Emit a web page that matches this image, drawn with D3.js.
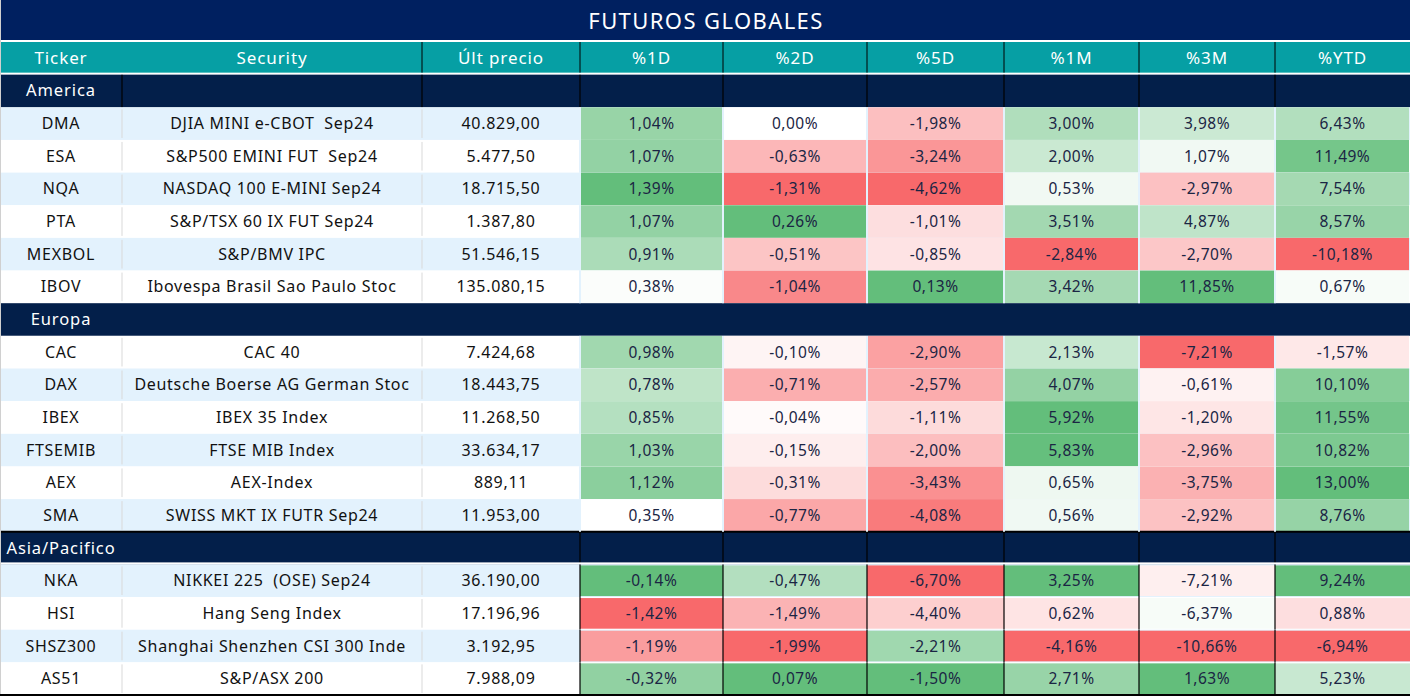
<!DOCTYPE html>
<html><head><meta charset="utf-8">
<script src="https://cdn.jsdelivr.net/npm/d3@7"></script>
<style>
html,body{margin:0;padding:0;background:#fff;}
svg{display:block;font-family:"Noto Sans",sans-serif;}
svg text{white-space:pre;}
</style></head>
<body><svg id="c" width="1412" height="697"></svg>
<script>
const title = "FUTUROS GLOBALES";
const columns = ["Ticker","Security","Últ precio","%1D","%2D","%5D","%1M","%3M","%YTD"];
const sections = ["America","Europa","Asia/Pacifico"];
const sectionOf = ["America","America","America","America","America","America",
  "Europa","Europa","Europa","Europa","Europa","Europa",
  "Asia/Pacifico","Asia/Pacifico","Asia/Pacifico","Asia/Pacifico"];
const tickers = ["DMA","ESA","NQA","PTA","MEXBOL","IBOV","CAC","DAX","IBEX","FTSEMIB","AEX","SMA","NKA","HSI","SHSZ300","AS51"];
const securities = ["DJIA MINI e-CBOT  Sep24","S&P500 EMINI FUT  Sep24","NASDAQ 100 E-MINI Sep24","S&P/TSX 60 IX FUT Sep24","S&P/BMV IPC","Ibovespa Brasil Sao Paulo Stoc",
  "CAC 40","Deutsche Boerse AG German Stoc","IBEX 35 Index","FTSE MIB Index","AEX-Index","SWISS MKT IX FUTR Sep24",
  "NIKKEI 225  (OSE) Sep24","Hang Seng Index","Shanghai Shenzhen CSI 300 Inde","S&P/ASX 200"];
const prices = [40829.00,5477.50,18715.50,1387.80,51546.15,135080.15,7424.68,18443.75,11268.50,33634.17,889.11,11953.00,36190.00,17196.96,3192.95,7988.09];
const pct1D = [1.04,1.07,1.39,1.07,0.91,0.38,0.98,0.78,0.85,1.03,1.12,0.35,-0.14,-1.42,-1.19,-0.32];
const pct2D = [0.00,-0.63,-1.31,0.26,-0.51,-1.04,-0.10,-0.71,-0.04,-0.15,-0.31,-0.77,-0.47,-1.49,-1.99,0.07];
const pct5D = [-1.98,-3.24,-4.62,-1.01,-0.85,0.13,-2.90,-2.57,-1.11,-2.00,-3.43,-4.08,-6.70,-4.40,-2.21,-1.50];
const pct1M = [3.00,2.00,0.53,3.51,-2.84,3.42,2.13,4.07,5.92,5.83,0.65,0.56,3.25,0.62,-4.16,2.71];
const pct3M = [3.98,1.07,-2.97,4.87,-2.70,11.85,-7.21,-0.61,-1.20,-2.96,-3.75,-2.92,-7.21,-6.37,-10.66,1.63];
const pctYTD = [6.43,11.49,7.54,8.57,-10.18,0.67,-1.57,10.10,11.55,10.82,13.00,8.76,9.24,0.88,-6.94,5.23];

const pctCols = {"%1D":pct1D,"%2D":pct2D,"%5D":pct5D,"%1M":pct1M,"%3M":pct3M,"%YTD":pctYTD};

// layout
const W = 1410;
const colEdges = [0,122,422,580,723,867,1004,1139,1275,1410];
const xL = d3.scaleOrdinal().domain(columns).range(colEdges.slice(0,9));
const xR = d3.scaleOrdinal().domain(columns).range(colEdges.slice(1));
const xC = c => (xL(c)+xR(c))/2;

const loc = d3.formatLocale({decimal:",",thousands:".",grouping:[3],currency:["",""],minus:"-"});
const fPrice = loc.format(",.2f");
const fPct = v => loc.format(".2f")(v) + "%";

// rows
const rows = [{type:"header",key:"header"}];
sections.forEach(s=>{
  rows.push({type:"section",key:"s_"+s,name:s});
  tickers.forEach((t,i)=>{ if(sectionOf[i]===s) rows.push({type:"data",key:"d_"+i,i}); });
});
rows.forEach((r,k)=>r.idx=k);
const y = d3.scaleBand().domain(rows.map(r=>r.key)).range([42,695]).padding(0);
const rh = y.bandwidth();

// color scales (Excel-like 3-colour scales)
const RED="#F8696B", WHITE="#FFFFFF", GREEN="#63BE7B";
function makeScale(vals, useMedian){
  const mn=d3.min(vals), mx=d3.max(vals);
  const mid = useMedian ? d3.median(vals) : Math.max(mn, Math.min(mx, 0));
  return d3.scaleLinear().domain([mn,mid,mx]).range([RED,WHITE,GREEN]).interpolate(d3.interpolateRgb);
}
const scales = {};
Object.entries(pctCols).forEach(([c,vals])=>{
  const amEu = vals.filter((v,i)=>sectionOf[i]!=="Asia/Pacifico");
  const as = vals.filter((v,i)=>sectionOf[i]==="Asia/Pacifico");
  scales[c] = {west: makeScale(amEu,false), asia: makeScale(as,true)};
});

const svg = d3.select("#c");
svg.append("rect").attr("x",0).attr("y",0).attr("width",1412).attr("height",697).attr("fill","#fff");

// title
svg.append("rect").attr("x",0).attr("y",0).attr("width",W).attr("height",40).attr("fill","#002060");
svg.append("text").attr("x",W/2+1).attr("y",20).attr("text-anchor","middle").attr("dominant-baseline","central")
  .attr("fill","#fff").attr("font-size",22).attr("letter-spacing",1.4).text(title);

const NAVY="#031F4A", TEAL="#069FA4", BLUE="#E3F2FD", TXT="#1B2544";
const FS = 16, LS = 0.7;

function txt(g, x, yy, s, fill, fs, ls){
  return g.append("text").attr("x",x).attr("y",yy).attr("text-anchor","middle").attr("dominant-baseline","central")
    .attr("fill",fill).attr("font-size",fs).attr("letter-spacing",ls).text(s);
}

rows.forEach(r=>{
  const y0 = y(r.key);
  const g = svg.append("g");
  if(r.type==="header"){
    g.append("rect").attr("x",0).attr("y",y0).attr("width",W).attr("height",rh-2).attr("fill",TEAL);
    columns.forEach((c,ci)=>{
      txt(g, xC(c), y0+rh/2-1, c, "#fff", 17, 0.9);
      if(ci>=2) g.append("line").attr("x1",xL(c)).attr("x2",xL(c)).attr("y1",y0).attr("y2",y0+rh-2).attr("stroke","#000").attr("stroke-width",1);
    });
  } else if(r.type==="section"){
    g.append("rect").attr("x",0).attr("y",y0).attr("width",W).attr("height",rh).attr("fill",NAVY);
    if(r.name==="America"){
      columns.forEach((c,ci)=>{ if(ci>=1) g.append("line").attr("x1",xL(c)).attr("x2",xL(c)).attr("y1",y0).attr("y2",y0+rh).attr("stroke","#000").attr("stroke-width",1.2); });
    }
    if(r.name==="Asia/Pacifico"){
      columns.forEach((c,ci)=>{ if(ci>=3) g.append("line").attr("x1",xL(c)).attr("x2",xL(c)).attr("y1",y0).attr("y2",y0+rh).attr("stroke","#000").attr("stroke-width",1.2); });
      g.append("rect").attr("x",0).attr("y",y0-1).attr("width",W).attr("height",2).attr("fill","#000");
      g.append("rect").attr("x",0).attr("y",y0+rh-2).attr("width",W).attr("height",2).attr("fill","#fff");
    }
    txt(g, xC("Ticker"), y0+rh/2-1, r.name, "#fff", 16.5, 0.9);
  } else {
    const i = r.i;
    const isAsia = sectionOf[i]==="Asia/Pacifico";
    g.append("rect").attr("x",0).attr("y",y0).attr("width",W).attr("height",rh).attr("fill", r.idx%2===0 ? BLUE : "#fff");
    ["Security","Últ precio"].forEach(c=>{
      g.append("line").attr("x1",xL(c)).attr("x2",xL(c)).attr("y1",y0+2).attr("y2",y0+rh-2).attr("stroke","#D9D9D9").attr("stroke-width",1);
    });
    const tc = y0+rh/2-0.5;
    txt(g, xC("Ticker"), tc, tickers[i], "#111", FS, LS);
    txt(g, xC("Security"), tc, securities[i], "#111", FS, LS);
    txt(g, xC("Últ precio"), tc, fPrice(prices[i]), "#111", FS, LS);
    Object.entries(pctCols).forEach(([c,vals])=>{
      const v = vals[i];
      const sc = isAsia ? scales[c].asia : scales[c].west;
      const x0 = xL(c), x1 = xR(c);
      if(isAsia){
        g.append("rect").attr("x",x0).attr("y",y0+1).attr("width",x1-x0).attr("height",rh-2).attr("fill",sc(v));
        g.append("line").attr("x1",x0).attr("x2",x0).attr("y1",y0).attr("y2",y0+rh).attr("stroke","#000").attr("stroke-width",1.2);
      } else {
        g.append("rect").attr("x",x0+1).attr("y",y0).attr("width",x1-x0-2).attr("height",rh).attr("fill",sc(v));
      }
      txt(g, (x0+x1)/2, tc, fPct(v), TXT, 15.5, 0.5);
    });
  }
});
rows.filter(r=>r.type==="data" && sectionOf[r.i]!=="Asia/Pacifico").forEach(r=>{
  const y0=y(r.key);
  ["%1D","%2D","%5D","%1M","%3M","%YTD"].forEach(c=>{
    svg.append("rect").attr("x",xL(c)-1).attr("y",y0).attr("width",2).attr("height",rh).attr("fill",BLUE);
  });
});
svg.append("rect").attr("x",0).attr("y",694).attr("width",W).attr("height",2).attr("fill","#000");
svg.append("line").attr("x1",0.5).attr("x2",0.5).attr("y1",0).attr("y2",694).attr("stroke","#D0D0D0");
</script></body></html>
